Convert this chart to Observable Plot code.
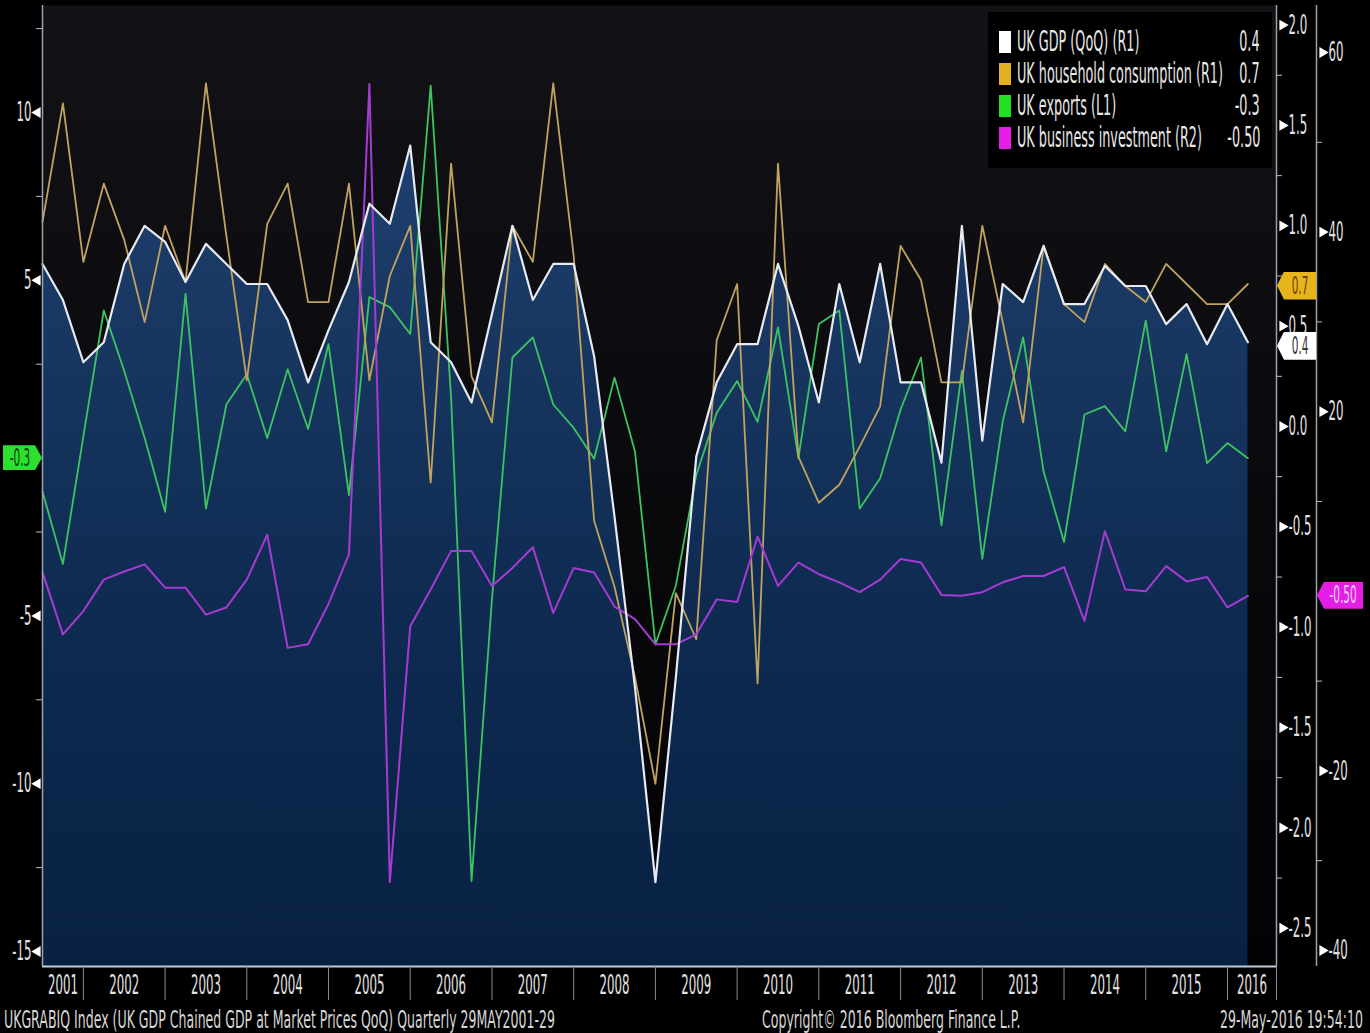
<!DOCTYPE html>
<html>
<head>
<meta charset="utf-8">
<script src="https://cdn.jsdelivr.net/npm/d3@7"></script>
<script src="https://cdn.jsdelivr.net/npm/@observablehq/plot@0.6"></script>
<style>
  html, body { margin: 0; padding: 0; background: #000; }
  #wrap { position: relative; width: 1370px; height: 1033px; overflow: hidden; background: #000;
          font-family: "DejaVu Sans", sans-serif; color: #e6e6e6; }
  #wrap > svg { position: absolute; left: 0; top: 0; display: block; }
  .abs { position: absolute; white-space: nowrap; }
  .sx { display: inline-block; white-space: nowrap; }
  .tag { position: absolute; }
  .tag .bg { position: absolute; left: 0; top: 0; right: 0; bottom: 0; }
  .tag .tx { position: absolute; top: 50%; white-space: nowrap; line-height: 1; }
</style>
</head>
<body>
<div id="wrap"></div>
<script>
// ---------------- DATA (quarterly, Q2 2001 ... Q1 2016) ----------------
const firstQuarterEnd = 2001.5;           // end of Q2 2001, fractional year
const quarterStep = 0.25;

// UK GDP QoQ % (right axis R1)
const gdp = [0.81,0.63,0.32,0.42,0.81,1.00,0.92,0.72,0.91,0.81,
             0.71,0.71,0.53,0.22,0.48,0.72,1.11,1.01,1.40,0.42,
             0.32,0.12,0.56,1.00,0.63,0.81,0.81,0.35,-0.45,-1.30,
             -2.27,-1.25,-0.15,0.22,0.41,0.41,0.81,0.50,0.12,0.71,
             0.32,0.81,0.22,0.22,-0.18,1.00,-0.07,0.71,0.62,0.90,
             0.61,0.61,0.80,0.70,0.70,0.51,0.61,0.41,0.61,0.42];
// UK household consumption QoQ % (R1)
const consumption = [1.02,1.61,0.82,1.21,0.93,0.52,1.00,0.72,1.71,0.95,
             0.23,1.01,1.21,0.62,0.62,1.21,0.23,0.75,1.00,-0.28,
             1.31,0.25,0.02,1.00,0.82,1.71,0.85,-0.47,-0.80,-1.25,
             -1.78,-0.83,-1.06,0.43,0.71,-1.28,1.31,-0.15,-0.38,-0.29,
             -0.10,0.10,0.90,0.73,0.22,0.22,1.00,0.52,0.02,0.90,
             0.61,0.52,0.81,0.70,0.62,0.81,0.71,0.61,0.61,0.71];
// UK exports QoQ % (left axis L1)
const exportsL1 = [-1.3,-3.45,0.35,4.1,2.3,0.3,-1.9,4.6,-1.8,1.3,
             2.2,0.3,2.35,0.57,3.1,-1.4,4.5,4.2,3.4,10.8,
             1.5,-12.9,-4.5,2.7,3.3,1.3,0.6,-0.32,2.1,-0.1,
             -5.85,-4.1,-0.8,1.05,2.0,0.78,3.6,-0.3,3.7,4.1,
             -1.8,-0.9,1.15,2.7,-2.3,2.3,-3.3,0.8,3.3,-0.7,
             -2.8,1.0,1.25,0.5,3.8,-0.1,2.8,-0.45,0.15,-0.3];
// UK business investment QoQ % (right axis R2)
const investment = [2.1,-4.8,-2.2,1.3,2.2,3.0,0.4,0.4,-2.6,-1.8,
             1.3,6.3,-6.3,-5.9,-1.4,4.1,56.5,-32.4,-3.9,0.2,
             4.5,4.5,0.6,2.6,4.9,-2.4,2.6,2.1,-1.7,-3.1,
             -5.9,-5.9,-4.8,-0.9,-1.2,6.1,0.6,3.2,1.9,1.0,
             -0.1,1.3,3.6,3.2,-0.4,-0.5,-0.1,1.0,1.7,1.7,
             2.7,-3.3,6.7,0.2,0.0,2.8,1.1,1.6,-1.8,-0.5];

const years = [2001,2002,2003,2004,2005,2006,2007,2008,2009,2010,2011,2012,2013,2014,2015,2016];
const leftTicks = [10, 5, -5, -10, -15];
const leftMinor = [12.5, 7.5, 2.5, -2.5, -7.5, -12.5];
const r1Ticks = [2.0, 1.5, 1.0, 0.5, 0.0, -0.5, -1.0, -1.5, -2.0, -2.5];
const r1Minor = [1.75, 1.25, 0.75, 0.25, -0.25, -0.75, -1.25, -1.75, -2.25];
const r2Ticks = [60, 40, 20, -20, -40];
const r2Minor = [50, 30, 10, -10, -30];

const legendNames  = ["UK GDP (QoQ) (R1)", "UK household consumption (R1)", "UK exports (L1)", "UK business investment (R2)"];
const legendValues = ["0.4", "0.7", "-0.3", "-0.50"];
const legendColors = ["#ffffff", "#e3b21e", "#22e022", "#e61ee6"];
const lastGdp = 0.4, lastCons = 0.7, lastExp = -0.3, lastInv = -0.50;

const footerLeft = "UKGRABIQ Index (UK GDP Chained GDP at Market Prices QoQ)  Quarterly 29MAY2001-29";
const footerMid = "Copyright\u00A9 2016 Bloomberg Finance L.P.";
const footerRight = "29-May-2016 19:54:10";

// ---------------- AXIS RELATIONSHIPS ----------------
// the y scale is in R1 units; L1 and R2 values are mapped onto it
const L1toR1 = e => -0.1076 + 0.16722 * e;
const R2toR1 = b => -0.8211 + 0.044744 * b;

const X0 = 2001.5, X1 = 2016.6;
const pxPerYear = (1276 - 42) / (X1 - X0);
const XR2 = X1 + 40 / pxPerYear;
const YTOP = 2.0977, Y0 = -2.6906;
const YSEP = Y0 - 34 / 200.7;

const rows = gdp.map((g, i) => ({
  t: firstQuarterEnd + quarterStep * i,
  gdp: g, cons: consumption[i], exp: exportsL1[i], inv: investment[i]
}));

const FONT = "DejaVu Sans";
const canvas = document.createElement("canvas").getContext("2d");
function measure(txt, size) { canvas.font = `${size}px "${FONT}"`; return canvas.measureText(txt).width; }
const axisFont = 27;
const axisScale = 30 / measure("2002", axisFont);

const fmt1 = d => d.toFixed(1);
const axisGrey = "#9aa2ae";

const plot = Plot.plot({
  width: 1370, height: 1000,
  marginLeft: 42, marginRight: 94, marginTop: 5, marginBottom: 34,
  style: {background: "transparent", color: "#e4e4e4", fontFamily: FONT, fontSize: axisFont + "px", overflow: "visible"},
  x: {domain: [X0, X1], axis: null},
  y: {domain: [Y0, YTOP], axis: null},
  marks: [
    Plot.frame({fill: "url(#bgGrad)", stroke: "none"}),
    Plot.areaY(rows, {x: "t", y1: Y0, y2: "gdp", fill: "url(#areaGrad)"}),
    Plot.lineY(rows, {x: "t", y: d => L1toR1(d.exp), stroke: "#3cc462", strokeWidth: 1.8}),
    Plot.lineY(rows, {x: "t", y: "cons", stroke: "#c1a35f", strokeWidth: 1.8}),
    Plot.lineY(rows, {x: "t", y: d => R2toR1(d.inv), stroke: "#a63bd2", strokeWidth: 2}),
    Plot.lineY(rows, {x: "t", y: "gdp", stroke: "#e8eaf2", strokeWidth: 2.2}),

    // axis lines
    Plot.ruleX([X0], {stroke: axisGrey, strokeWidth: 1.5}),
    Plot.ruleX([X1], {stroke: axisGrey, strokeWidth: 1.5}),
    Plot.ruleX([XR2], {stroke: axisGrey, strokeWidth: 1.5}),
    Plot.ruleY([Y0], {stroke: "#c2ccda", strokeWidth: 2}),

    // year separators and labels
    Plot.ruleX([...years.slice(1), X1], {y1: Y0, y2: YSEP, stroke: "#8a8a8a"}),
    Plot.text(years, {x: y => (Math.max(y, X0) + Math.min(y + 1, X1)) / 2, text: y => String(y),
                      frameAnchor: "bottom", lineAnchor: "middle", dy: 19, fill: "#e2e2e2", fontSize: axisFont}),

    // left axis (L1)
    Plot.ruleY(leftMinor, {y: d => L1toR1(d), x1: X0 - 6 / pxPerYear, x2: X0, stroke: "#bbbbbb"}),
    Plot.dot(leftTicks, {y: d => L1toR1(d), frameAnchor: "left", dx: -5, symbol: "triangle", r: 4, rotate: -90, fill: "#ffffff", stroke: "none"}),
    Plot.text(leftTicks, {y: d => L1toR1(d), text: d => String(d), frameAnchor: "left", dx: -11, textAnchor: "end", lineAnchor: "middle", fill: "#e2e2e2", fontSize: axisFont}),

    // right axis (R1)
    Plot.ruleY(r1Minor, {y: d => d, x1: X1, x2: X1 + 6 / pxPerYear, stroke: "#bbbbbb"}),
    Plot.dot(r1Ticks, {y: d => d, frameAnchor: "right", dx: 6, symbol: "triangle", r: 4, rotate: 90, fill: "#ffffff", stroke: "none"}),
    Plot.text(r1Ticks, {y: d => d, text: fmt1, frameAnchor: "right", dx: 12, textAnchor: "start", lineAnchor: "middle", fill: "#e2e2e2", fontSize: axisFont}),

    // right axis (R2)
    Plot.ruleY(r2Minor, {y: d => R2toR1(d), x1: XR2, x2: XR2 + 6 / pxPerYear, stroke: "#bbbbbb"}),
    Plot.dot(r2Ticks, {y: d => R2toR1(d), frameAnchor: "right", dx: 46, symbol: "triangle", r: 4, rotate: 90, fill: "#ffffff", stroke: "none"}),
    Plot.text(r2Ticks, {y: d => R2toR1(d), text: d => String(d), frameAnchor: "right", dx: 52, textAnchor: "start", lineAnchor: "middle", fill: "#e2e2e2", fontSize: axisFont})
  ]
});

// gradients
const defs = document.createElementNS("http://www.w3.org/2000/svg", "defs");
defs.innerHTML = `
<linearGradient id="bgGrad" gradientUnits="userSpaceOnUse" x1="0" y1="5" x2="0" y2="966">
  <stop offset="0" stop-color="#131216"/>
  <stop offset="0.6" stop-color="#08080b"/>
  <stop offset="1" stop-color="#030305"/>
</linearGradient>
<linearGradient id="areaGrad" gradientUnits="userSpaceOnUse" x1="0" y1="5" x2="0" y2="966">
  <stop offset="0" stop-color="#25497f"/>
  <stop offset="0.3" stop-color="#193863"/>
  <stop offset="0.62" stop-color="#0f2b52"/>
  <stop offset="1" stop-color="#082143"/>
</linearGradient>`;
plot.insertBefore(defs, plot.firstChild);

// condensed text look
plot.querySelectorAll("text").forEach(t => {
  t.setAttribute("transform", (t.getAttribute("transform") || "") + ` scale(${axisScale.toFixed(3)},1)`);
});

const wrap = document.getElementById("wrap");
wrap.appendChild(plot);
const yS = plot.scale("y");

// ---------------- LEGEND ----------------
const legend = document.createElement("div");
legend.className = "abs";
Object.assign(legend.style, {left: "988px", top: "12px", width: "284px", height: "156px", background: "#000"});
wrap.appendChild(legend);
const legFont = 28;
const legScale = 206 / measure(legendNames[1], legFont);
legendNames.forEach((name, k) => {
  const cy = 30 + 32 * k;
  const sq = document.createElement("div");
  sq.className = "abs";
  Object.assign(sq.style, {left: "11px", top: (cy - 11) + "px", width: "12px", height: "22px", background: legendColors[k]});
  legend.appendChild(sq);
  const lab = document.createElement("div");
  lab.className = "abs";
  Object.assign(lab.style, {left: "29px", top: (cy - 16) + "px", height: "32px", lineHeight: "32px", fontSize: legFont + "px", color: "#e8e8e8"});
  lab.innerHTML = `<span class="sx" style="transform:scaleX(${legScale});transform-origin:left center">${name}</span>`;
  legend.appendChild(lab);
  const val = document.createElement("div");
  val.className = "abs";
  Object.assign(val.style, {right: "12px", top: (cy - 16) + "px", height: "32px", lineHeight: "32px", fontSize: legFont + "px", color: "#e8e8e8", textAlign: "right"});
  val.innerHTML = `<span class="sx" style="transform:scaleX(${legScale});transform-origin:right center">${legendValues[k]}</span>`;
  legend.appendChild(val);
});

// ---------------- VALUE TAGS ----------------
function addTag(left, width, cy, height, bg, fg, text, pointRight) {
  const d = document.createElement("div");
  d.className = "tag";
  Object.assign(d.style, {left: left + "px", top: (cy - height / 2) + "px", width: width + "px", height: height + "px"});
  const b = document.createElement("div");
  b.className = "bg";
  Object.assign(b.style, {background: bg, clipPath: pointRight
      ? "polygon(0 0, calc(100% - 7px) 0, 100% 50%, calc(100% - 7px) 100%, 0 100%)"
      : "polygon(7px 0, 100% 0, 100% 100%, 7px 100%, 0 50%)"});
  d.appendChild(b);
  const t = document.createElement("span");
  t.className = "tx";
  const cx = pointRight ? (width - 6) / 2 : 6 + (width - 6) / 2;
  Object.assign(t.style, {left: cx + "px", color: fg, fontSize: "24px",
    transform: `translate(-50%,-50%) scaleX(${axisScale})`});
  t.textContent = text;
  d.appendChild(t);
  wrap.appendChild(d);
}
addTag(3, 39, yS.apply(L1toR1(lastExp)), 25, "#2ee02e", "#0b3d0b", "-0.3", true);
addTag(1277, 39, yS.apply(lastCons), 28, "#e6b51c", "#6a4300", "0.7", false);
addTag(1277, 39, yS.apply(lastGdp), 28, "#ffffff", "#333333", "0.4", false);
addTag(1317, 46, yS.apply(R2toR1(lastInv)), 27, "#e41ee4", "#ffd0ff", "-0.50", false);

// ---------------- FOOTER ----------------
const fFont = 25;
const fScale = 555 / measure(footerLeft, fFont);
function addFooter(text, pos, align) {
  const d = document.createElement("div");
  d.className = "abs";
  Object.assign(d.style, {top: "1005px", height: "30px", lineHeight: "30px", fontSize: fFont + "px", color: "#d6d6d6"});
  if (align === "left") d.style.left = pos + "px"; else d.style.right = (1370 - pos) + "px";
  d.innerHTML = `<span class="sx" style="transform:scaleX(${fScale});transform-origin:${align} center">${text}</span>`;
  wrap.appendChild(d);
}
addFooter(footerLeft, 4, "left");
addFooter(footerMid, 762, "left");
addFooter(footerRight, 1363, "right");
</script>
</body>
</html>
